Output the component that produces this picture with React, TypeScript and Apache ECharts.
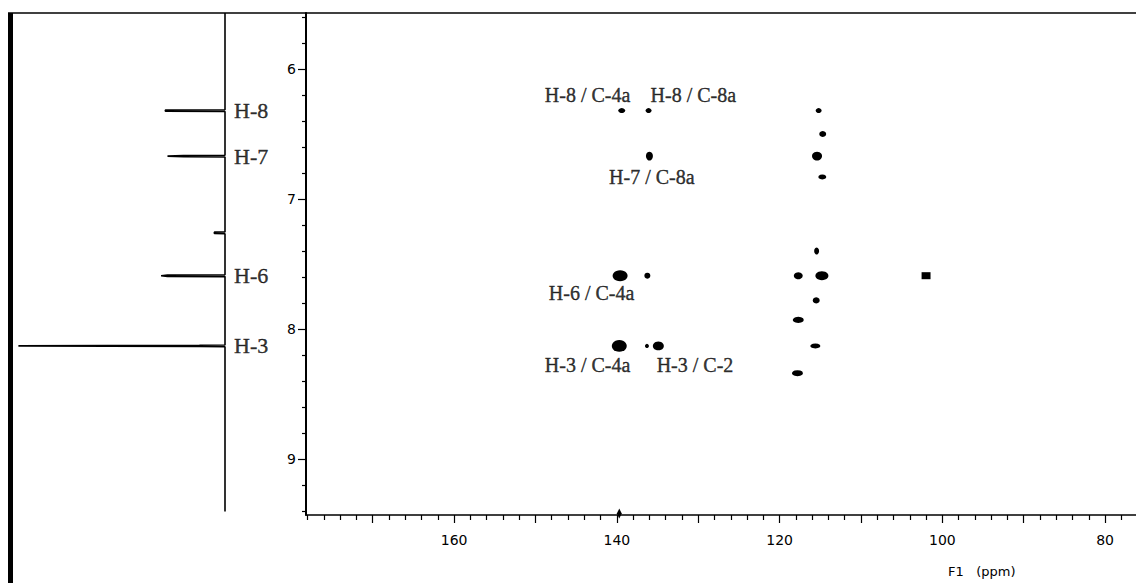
import React, { useEffect, useRef } from "react";
import * as echarts from "echarts";

// ---- 2D HMBC cross peaks (13C shift, 1H shift, contour extents in ppm) ----
const c13Shift = [139.4, 136.1, 115.2, 114.7, 136.0, 115.4, 114.75, 115.45, 139.6, 136.25, 117.7, 114.8, 102.0, 115.5, 117.7, 139.7, 136.3, 134.9, 115.6, 117.8, 139.7];
const h1Shift = [6.32, 6.32, 6.32, 6.5, 6.67, 6.67, 6.83, 7.4, 7.59, 7.59, 7.59, 7.59, 7.59, 7.78, 7.93, 8.13, 8.13, 8.13, 8.13, 8.34, 9.42];
const c13Extent = [0.86, 0.74, 0.74, 0.86, 0.86, 1.23, 0.98, 0.61, 1.84, 0.74, 1.1, 1.6, 1.1, 0.86, 1.35, 1.84, 0.49, 1.35, 1.23, 1.35, 0.61];
const h1Extent = [0.038, 0.038, 0.038, 0.046, 0.069, 0.069, 0.038, 0.054, 0.085, 0.046, 0.054, 0.069, 0.054, 0.046, 0.046, 0.092, 0.031, 0.069, 0.038, 0.046, 0.077];
const peakKind = ["c", "c", "c", "c", "c", "c", "c", "c", "c", "c", "c", "c", "box", "c", "c", "c", "c", "c", "c", "c", "edge"];

// ---- annotations ----
const labelText = ["H-8 / C-4a", "H-8 / C-8a", "H-7 / C-8a", "H-6 / C-4a", "H-3 / C-4a", "H-3 / C-2"];
const labelC = [143.6, 130.6, 135.7, 143.1, 143.6, 130.4];
const labelH = [6.2, 6.2, 6.83, 7.72, 8.28, 8.28];

// ---- 1D proton projection ----
const protonNames = ["H-8", "H-7", "H-6", "H-3"];
const protonShift = [6.32, 6.67, 7.59, 8.13];
const protonBody = [0.28, 0.195, 0.27, 0.12];
const protonTip = [0.28, 0.27, 0.3, 0.97];
const smallShift = [7.26];
const smallTip = [0.05];

// ---- axes ----
const xMin = 76.2;
const xMax = 178.2;
const yMin = 5.569;
const yMax = 9.431;
const xMajorTicks = [80, 90, 100, 110, 120, 130, 140, 150, 160, 170];
const xLabelValues = [80, 100, 120, 140, 160];
const yMajorTicks = [6, 7, 8, 9];
const xMinorTicks: number[] = [];
for (let v = 78; v <= 178; v += 2) if (v % 10 !== 0) xMinorTicks.push(v);
const yMinorTicks: number[] = [];
for (let k = 28; k <= 47; k++) if (k % 5 !== 0) yMinorTicks.push(Math.round(k * 2) / 10);

const GRID = { left: 306, top: 13, width: 830, height: 502 };
const GRID1D = { left: 12, top: 13, width: 213, height: 502 };

export default function App() {
  const ref = useRef<HTMLDivElement>(null);
  useEffect(() => {
    if (!ref.current) return;
    const chart = echarts.init(ref.current, undefined, { renderer: "svg" });
    const pxC = GRID.width / (xMax - xMin);
    const pxH = GRID.height / (yMax - yMin);

    const peaks = c13Shift.map((c, i) => ({
      value: [c, h1Shift[i]],
      symbol: peakKind[i] === "box" ? "rect" : peakKind[i] === "edge" ? "diamond" : "circle",
      symbolSize: [c13Extent[i] * pxC, h1Extent[i] * pxH],
    }));

    const trace: number[][] = [[0, yMin]];
    const events: { s: number; body: number; tip: number }[] = [];
    protonShift.forEach((s, i) => events.push({ s, body: protonBody[i], tip: protonTip[i] }));
    smallShift.forEach((s, i) => events.push({ s, body: smallTip[i], tip: smallTip[i] }));
    events.sort((a, b) => a.s - b.s);
    events.forEach((e) => {
      trace.push([0, e.s - 0.007]);
      trace.push([e.body, e.s - 0.005]);
      trace.push([e.tip, e.s]);
      trace.push([e.body, e.s + 0.005]);
      trace.push([0, e.s + 0.007]);
    });
    trace.push([0, 9.405]);

    const tickFont = { fontFamily: "DejaVu Sans", fontSize: 14, color: "#000" };
    const serif = { fontFamily: "Liberation Serif", color: "#000", textBorderColor: "#000", textBorderWidth: 0.4 };

    chart.setOption({
      animation: false,
      backgroundColor: "#fff",
      grid: [
        { ...GRID, containLabel: false },
        { ...GRID1D, containLabel: false },
      ],
      xAxis: [
        {
          gridIndex: 0, type: "value", min: xMin, max: xMax, inverse: true, position: "bottom",
          axisLine: { show: true, lineStyle: { color: "#000", width: 1.5 } },
          axisTick: { show: true, customValues: xMajorTicks, length: 8, lineStyle: { color: "#000", width: 1.2 } },
          axisLabel: { show: true, customValues: xLabelValues, margin: 18, ...tickFont, formatter: (v: number) => String(v) },
          splitLine: { show: false },
        },
        {
          gridIndex: 0, type: "value", min: xMin, max: xMax, inverse: true, position: "bottom",
          axisLine: { show: false },
          axisTick: { show: true, customValues: xMinorTicks, length: 5, lineStyle: { color: "#000", width: 1.2 } },
          axisLabel: { show: false },
          splitLine: { show: false },
        },
        { gridIndex: 1, type: "value", min: 0, max: 1, inverse: true, show: false },
      ],
      yAxis: [
        {
          gridIndex: 0, type: "value", min: yMin, max: yMax, inverse: true, position: "left",
          axisLine: { show: true, lineStyle: { color: "#000", width: 2 } },
          axisTick: { show: true, customValues: yMajorTicks, length: 8, lineStyle: { color: "#000", width: 1.2 } },
          axisLabel: { show: true, customValues: yMajorTicks, margin: 10, ...tickFont, formatter: (v: number) => String(v) },
          splitLine: { show: false },
        },
        {
          gridIndex: 0, type: "value", min: yMin, max: yMax, inverse: true, position: "left",
          axisLine: { show: false },
          axisTick: { show: true, customValues: yMinorTicks, length: 4, lineStyle: { color: "#000", width: 1.2 } },
          axisLabel: { show: false },
          splitLine: { show: false },
        },
        { gridIndex: 1, type: "value", min: yMin, max: yMax, inverse: true, show: false },
      ],
      series: [
        {
          type: "scatter", xAxisIndex: 0, yAxisIndex: 0, data: peaks, clip: false,
          itemStyle: { color: "#000", opacity: 1 }, silent: true,
        },
        {
          type: "scatter", xAxisIndex: 0, yAxisIndex: 0, symbolSize: 0, silent: true,
          data: labelText.map((t, i) => ({ name: t, value: [labelC[i], labelH[i]] })),
          label: { show: true, position: "inside", formatter: "{b}", fontSize: 20, ...serif },
        },
        {
          type: "line", xAxisIndex: 2, yAxisIndex: 2, data: trace, symbol: "none", silent: true,
          lineStyle: { color: "#000", width: 1.6 },
        },
        {
          type: "scatter", xAxisIndex: 2, yAxisIndex: 2, symbolSize: 0, silent: true,
          data: protonNames.map((n, i) => ({ name: n, value: [0, protonShift[i]] })),
          label: { show: true, position: "right", distance: 9, formatter: "{b}", fontSize: 22, ...serif },
        },
      ],
      graphic: [
        { type: "rect", left: 8, top: 13, shape: { width: 5, height: 570 }, style: { fill: "#000" }, silent: true },
        { type: "line", shape: { x1: 8, y1: 13, x2: 1136, y2: 13 }, style: { stroke: "#000", lineWidth: 1.5 }, silent: true },
        { type: "text", left: 948, top: 565, style: { text: "F1   (ppm)", font: "13px 'DejaVu Sans'", fill: "#000" }, silent: true },
      ],
    });
    return () => chart.dispose();
  }, []);
  return <div ref={ref} style={{ position: "fixed", left: 0, top: 0, width: 1136, height: 583, background: "#fff" }} />;
}
